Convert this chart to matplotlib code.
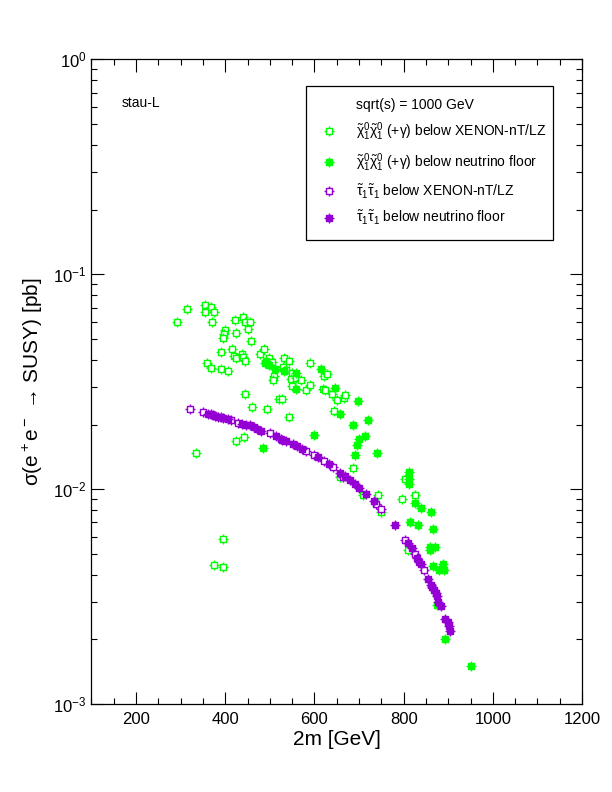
import matplotlib
matplotlib.use("Agg")
import matplotlib.pyplot as plt
from matplotlib.path import Path
from matplotlib.lines import Line2D
from matplotlib.ticker import MultipleLocator, LogLocator, NullFormatter

plt.rcParams['font.family'] = ['Liberation Sans', 'DejaVu Sans']
plt.rcParams['mathtext.fontset'] = 'custom'
plt.rcParams['mathtext.rm'] = 'Liberation Sans'
plt.rcParams['mathtext.it'] = 'Liberation Sans'
plt.rcParams['mathtext.bf'] = 'Liberation Sans:bold'

# neutralino pair, below XENON-nT/LZ (open green)
chi_xen_m = [315, 292, 354, 368, 354, 375, 370, 440, 422, 444, 455, 451, 400, 397,
             395, 424, 458, 415, 390, 419, 424, 437, 440, 444, 477, 487, 359, 368,
             391, 406, 497, 504, 531, 543, 530, 536, 509, 506, 550, 547, 559, 570,
             550, 581, 590, 590, 621, 628, 619, 624, 639, 650, 666, 669, 644, 686,
             444, 460, 494, 521, 527, 543, 442, 424, 335, 395, 395, 375, 742, 825,
             796, 709, 658, 803, 810, 750]
chi_xen_s = [0.0687, 0.0603, 0.0719, 0.0701, 0.0665, 0.0665, 0.0597, 0.063, 0.061,
             0.0603, 0.0603, 0.0554, 0.0548, 0.0525, 0.0503, 0.0531, 0.0487, 0.0447,
             0.0433, 0.0415, 0.0409, 0.0425, 0.0413, 0.0397, 0.0424, 0.0447, 0.0385,
             0.0365, 0.0361, 0.0353, 0.0406, 0.0391, 0.0406, 0.0397, 0.0369, 0.0358,
             0.0338, 0.0321, 0.0346, 0.0324, 0.0328, 0.0321, 0.0301, 0.0288, 0.0304,
             0.0385, 0.0335, 0.0342, 0.0294, 0.0291, 0.0276, 0.0259, 0.0267, 0.0273,
             0.0232, 0.0126, 0.0276, 0.024, 0.0235, 0.0264, 0.0262, 0.0216, 0.0174,
             0.0167, 0.0147, 0.00585, 0.00434, 0.00446, 0.0094, 0.0094, 0.0090,
             0.0094, 0.0114, 0.0111, 0.0052, 0.0078]

# neutralino pair, below neutrino floor (filled green)
chi_nu_m = [492, 488, 497, 511, 531, 559, 559, 615, 646, 698, 657, 686, 720, 700,
            713, 695, 691, 740, 599, 485, 812, 812, 812, 825, 839, 861, 814, 832,
            866, 859, 870, 859, 866, 888, 879, 890, 874, 892, 950]
chi_nu_s = [0.0394, 0.0385, 0.038, 0.0361, 0.0353, 0.0346, 0.0294, 0.0361, 0.0297,
            0.0256, 0.0225, 0.0198, 0.0209, 0.0172, 0.0176, 0.016, 0.0145, 0.0148,
            0.0178, 0.0155, 0.0120, 0.0111, 0.0106, 0.0086, 0.0082, 0.0078, 0.0070,
            0.00685, 0.0065, 0.0054, 0.0054, 0.0052, 0.0044, 0.0045, 0.0042, 0.0042,
            0.0029, 0.0020, 0.0015]

# stau pair, below XENON-nT/LZ (open purple)
stau_xen_m = [321, 350, 412, 429, 500, 527, 582, 598, 621, 641, 665, 739, 750, 803,
              825, 845]
stau_xen_s = [0.0237, 0.0228, 0.0209, 0.0204, 0.0182, 0.0170, 0.0150, 0.0144, 0.0135,
              0.0127, 0.0114, 0.0085, 0.0081, 0.0058, 0.0050, 0.0042]

# stau pair, below neutrino floor (filled purple)
stau_nu_m = [362, 367, 373, 378, 384, 390, 395, 405, 438, 446, 455, 464, 471, 481,
             513, 524, 537, 551, 560, 571, 608, 633, 657, 668, 679, 690, 701, 716,
             733, 780, 810, 818, 830, 834, 839, 854, 861, 863, 868, 872, 874, 877,
             883, 892, 899, 901, 904]
stau_nu_s = [0.0225, 0.0223, 0.0221, 0.0219, 0.0217, 0.0216, 0.0215, 0.0212, 0.0202,
             0.0200, 0.0198, 0.0194, 0.0190, 0.0187, 0.0177, 0.0172, 0.0167, 0.0163,
             0.0159, 0.0154, 0.0141, 0.0131, 0.0119, 0.0115, 0.0110, 0.0106, 0.0101,
             0.0095, 0.0088, 0.0068, 0.0056, 0.0053, 0.0048, 0.0046, 0.0045, 0.0038,
             0.0036, 0.0035, 0.0034, 0.0033, 0.0032, 0.0030, 0.00285, 0.0025, 0.0024,
             0.0023, 0.0022]

green = '#00ff00'
purple = '#9400d3'

# square with little spikes, like the grace marker
verts = [(-0.5, -0.5), (0.5, -0.5), (0.5, 0.5), (-0.5, 0.5), (-0.5, -0.5),
         (0, 0.5), (0, 0.75), (0, -0.5), (0, -0.75),
         (0.5, 0), (0.75, 0), (-0.5, 0), (-0.75, 0)]
codes = [Path.MOVETO, Path.LINETO, Path.LINETO, Path.LINETO, Path.CLOSEPOLY,
         Path.MOVETO, Path.LINETO, Path.MOVETO, Path.LINETO,
         Path.MOVETO, Path.LINETO, Path.MOVETO, Path.LINETO]
mk = Path(verts, codes)

fig = plt.figure(figsize=(6.12, 7.92), dpi=100)
ax = fig.add_axes([0.1495, 0.111, 0.8015, 0.814])

ms = 6.5
mew = 1.0
ax.plot(chi_xen_m, chi_xen_s, ls='none', marker=mk, ms=ms, mew=mew, mec=green, mfc='white')
ax.plot(chi_nu_m, chi_nu_s, ls='none', marker=mk, ms=ms, mew=mew, mec=green, mfc=green)
ax.plot(stau_xen_m, stau_xen_s, ls='none', marker=mk, ms=ms, mew=mew, mec=purple, mfc='white')
ax.plot(stau_nu_m, stau_nu_s, ls='none', marker=mk, ms=ms, mew=mew, mec=purple, mfc=purple)

ax.set_yscale('log')
ax.set_xlim(100, 1200)
ax.set_ylim(1e-3, 1)
ax.xaxis.set_major_locator(MultipleLocator(200))
ax.xaxis.set_minor_locator(MultipleLocator(50))
ax.yaxis.set_major_locator(LogLocator(base=10))
ax.yaxis.set_minor_locator(LogLocator(base=10, subs=range(2, 10)))
ax.yaxis.set_minor_formatter(NullFormatter())
ax.tick_params(which='both', direction='in', top=True, right=True, labelsize=12)
ax.tick_params(which='major', length=9, width=0.8)
ax.tick_params(which='minor', length=4.5, width=0.8)
ax.tick_params(axis='x', pad=6)
for s in ax.spines.values():
    s.set_linewidth(0.9)

ax.set_xlabel('2m [GeV]', fontsize=15, labelpad=2)
ax.set_ylabel('σ(e$^+$e$^-$ → SUSY) [pb]', fontsize=15, labelpad=6)

ax.text(0.062, 0.932, 'stau-L', transform=ax.transAxes, fontsize=10, va='center')

handles = [
    Line2D([], [], ls='none'),
    Line2D([], [], ls='none', marker=mk, ms=ms, mew=mew, mec=green, mfc='white'),
    Line2D([], [], ls='none', marker=mk, ms=ms, mew=mew, mec=green, mfc=green),
    Line2D([], [], ls='none', marker=mk, ms=ms, mew=mew, mec=purple, mfc='white'),
    Line2D([], [], ls='none', marker=mk, ms=ms, mew=mew, mec=purple, mfc=purple),
]
labels = [
    'sqrt(s) = 1000 GeV',
    r'$\tilde{\chi}^0_1\tilde{\chi}^0_1$ (+$\gamma$) below XENON-nT/LZ',
    r'$\tilde{\chi}^0_1\tilde{\chi}^0_1$ (+$\gamma$) below neutrino floor',
    r'$\tilde{\tau}_1\tilde{\tau}_1$ below XENON-nT/LZ',
    r'$\tilde{\tau}_1\tilde{\tau}_1$ below neutrino floor',
]
leg = ax.legend(handles, labels, loc='upper left', bbox_to_anchor=(0.4375, 0.959, 0.504, 0.0),
                mode='expand', fontsize=10, frameon=True, fancybox=False,
                edgecolor='black', framealpha=1, labelspacing=0.6, handlelength=1.5,
                handletextpad=1.2, borderpad=0.9, borderaxespad=0.0)
leg.get_frame().set_linewidth(0.9)

fig.savefig('out.png', dpi=100)
